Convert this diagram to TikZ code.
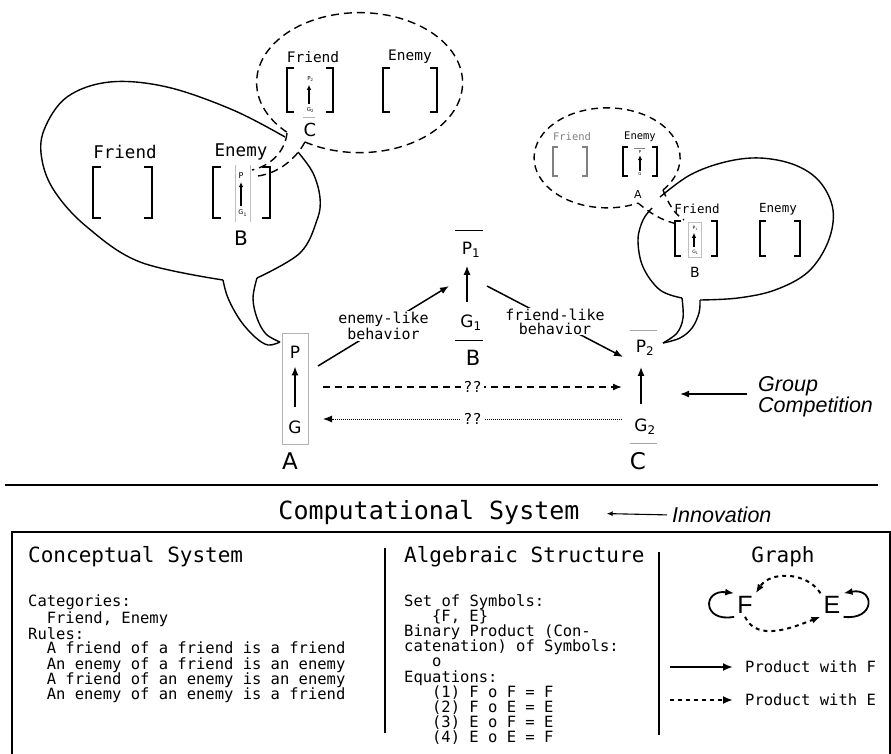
\documentclass[tikz,border=0pt]{standalone}
\usepackage{fontspec}
\setmainfont{DejaVu Sans}
\newfontfamily\mono{DejaVu Sans Mono}
\newfontfamily\arial{Liberation Sans}
\usetikzlibrary{arrows.meta}

% left bracket at #2, right bracket at #3, from #4 to #5, arms #6 long
\newcommand{\brk}[6]{%
  \draw[#1] (#2+#6,#4) -- (#2,#4) -- (#2,#5) -- (#2+#6,#5);
  \draw[#1] (#3-#6,#4) -- (#3,#4) -- (#3,#5) -- (#3-#6,#5);}

\begin{document}
\begin{tikzpicture}[x=1pt,y=-1pt,>={Latex[length=9pt,width=7pt]},
    mono/.style={inner sep=0pt,font=\mono\fontsize{15.5}{15.2}\selectfont},
    head/.style={inner sep=0pt,font=\mono\fontsize{21}{21}\selectfont},
    letter/.style={inner sep=1pt,font=\fontsize{17}{17}\selectfont},
    ital/.style={inner sep=0pt,font=\arial\itshape\fontsize{21.5}{21}\selectfont},
    bubble/.style={line width=1.4pt},
    thought/.style={line width=1.4pt,dash pattern=on 8pt off 5pt},
    pg/.style={->,line width=1.6pt,shorten <=12pt,shorten >=7pt},
    tiny/.style={->,line width=1.3pt,>={Latex[length=5pt,width=4.5pt]}}]
    \useasboundingbox (0,0) rectangle (891,753);

    % --- speech bubble of A: outline 42..320, tail to the box ---
    \draw[bubble] plot[smooth,tension=0.6] coordinates {(285,137) (233,110) (167,87) (110,82) (67,97) (44,130) (42,160) (55,192) (87,227) (140,262) (223,280)};
    \draw[bubble] plot[smooth,tension=0.6] coordinates {(223,280) (228,298) (240,320) (255,337) (268,345) (280,342)};
    \draw[bubble] plot[smooth,tension=0.6] coordinates {(280,342) (266,334) (257,318) (253,298) (257,278)};
    \draw[bubble] plot[smooth,tension=0.6] coordinates {(257,278) (300,253) (317,220) (320,198) (313,173) (298,152)};
    \node[font=\mono\fontsize{17.5}{17.5}\selectfont] (aFriend) at (125,152) {Friend};
    \node[font=\mono\fontsize{17.5}{17.5}\selectfont] (aEnemy) at (241,152) {Enemy};
    \brk{line width=2.8pt}{93}{152}{167}{218}{8}
    \brk{line width=2.8pt}{213}{270}{167}{218}{8}
    \draw[gray!50,line width=0.6pt] (235,165) -- (235,222)  (250,165) -- (250,222);
    \node[inner sep=1pt,font=\fontsize{8}{8}\selectfont] (aP) at (241,176) {P};
    \node[inner sep=1pt,font=\fontsize{6.5}{6.5}\selectfont] (aG) at (241,213) {G\rlap{\textsubscript{1}}};
    \draw[tiny,line width=1.6pt,shorten <=3pt,shorten >=2pt] (aG) -- (aP);
    \node[font=\fontsize{20}{20}\selectfont] (aB) at (241,238) {B};

    % --- thought of B: ellipse 257..463, tail down to B ---
    \draw[thought] (305,142) arc[start angle=122,end angle=-225,x radius=103,y radius=70];
    \draw[thought] (287,133) .. controls (285,152) and (270,166) .. (252,170);
    \draw[thought] (305,142) .. controls (295,160) and (278,173) .. (258,176);
    \node[font=\mono\fontsize{14.5}{14.5}\selectfont] (tFriend) at (313,57) {Friend};
    \node[font=\mono\fontsize{14.5}{14.5}\selectfont] (tEnemy) at (410,57) {Enemy};
    \brk{line width=2.8pt}{287}{333}{68}{112}{7}
    \brk{line width=2.8pt}{383}{437}{68}{112}{7}
    \node[inner sep=1pt,font=\fontsize{5.5}{5.5}\selectfont] (tP) at (309,79) {P\rlap{\textsubscript{2}}};
    \node[inner sep=1pt,font=\fontsize{5.5}{5.5}\selectfont] (tG) at (309,110) {G\rlap{\textsubscript{2}}};
    \draw[tiny,shorten <=2pt,shorten >=2pt] (tG) -- (tP);
    \draw[gray!60,line width=0.8pt] (303,117) -- (315,117);
    \node[font=\fontsize{18}{18}\selectfont] (tC) at (310,130) {C};

    % --- speech bubble of C: outline 638..833, tail to P2 ---
    \draw[bubble] plot[smooth,tension=0.6] coordinates {(660,197) (690,175) (725,162) (760,158) (795,165) (820,182) (833,210) (828,242) (808,272) (775,290) (738,298) (700,300)};
    \draw[bubble] plot[smooth,tension=0.6] coordinates {(700,300) (699,313) (692,328) (680,338) (663,343)};
    \draw[bubble] plot[smooth,tension=0.6] coordinates {(663,343) (677,333) (683,318) (682,298)};
    \draw[bubble] plot[smooth,tension=0.6] coordinates {(682,298) (660,290) (643,267) (638,240) (643,220) (652,208)};
    \node[font=\mono\fontsize{12.5}{12.5}\selectfont] (cFriend) at (697,209) {Friend};
    \node[font=\mono\fontsize{12.5}{12.5}\selectfont] (cEnemy) at (778,209) {Enemy};
    \brk{line width=2.2pt}{675}{717}{221}{256}{6}
    \brk{line width=2.2pt}{760}{800}{221}{256}{6}
    \draw[gray!50,line width=0.6pt] (688,222) rectangle (701,257);
    \node[inner sep=0.5pt,font=\fontsize{4.5}{4.5}\selectfont] (cP) at (694,228) {P\rlap{\textsubscript{1}}};
    \node[inner sep=0.5pt,font=\fontsize{4.5}{4.5}\selectfont] (cG) at (694,252) {G\rlap{\textsubscript{1}}};
    \draw[tiny,shorten <=2pt,shorten >=2pt] (cG) -- (cP);
    \node[font=\fontsize{14}{14}\selectfont] (cB) at (695,272) {B};

    % --- thought of B about A: ellipse 534..680 ---
    \draw[thought,dash pattern=on 7pt off 5pt] (663,190) arc[start angle=40,end angle=-295,x radius=73,y radius=50];
    \draw[thought,dash pattern=on 7pt off 5pt] (663,190) .. controls (668,202) and (673,213) .. (684,220);
    \draw[thought,dash pattern=on 7pt off 5pt] (638,203) .. controls (650,213) and (662,221) .. (678,224);
    \node[gray,font=\mono\fontsize{10.5}{10.5}\selectfont] (rFriend) at (572,137) {Friend};
    \node[font=\mono\fontsize{10.5}{10.5}\selectfont] (rEnemy) at (640,137) {Enemy};
    \brk{gray,line width=1.6pt}{553}{587}{147}{176}{5}
    \brk{line width=2pt}{623}{657}{147}{176}{5}
    \draw[gray,line width=0.8pt] (634,148) -- (645,148);
    \node[inner sep=0.5pt,font=\fontsize{4}{4}\selectfont] (rP) at (640,152) {P};
    \node[inner sep=0.5pt,font=\fontsize{4}{4}\selectfont] (rG) at (640,174) {G};
    \draw[tiny,shorten <=1pt,shorten >=1pt] (rG) -- (rP);
    \node[font=\fontsize{11}{11}\selectfont] (rA) at (638,194) {A};

    % --- groups A, B, C ---
    \node[draw=gray!60,line width=1pt,minimum width=26pt,minimum height=111pt,inner sep=0pt] (boxA) at (295,388.5) {};
    \node[letter] (PA) at (295,352) {P};
    \node[letter] (GA) at (295,427) {G};
    \draw[pg] (GA) -- (PA);
    \node[font=\fontsize{23}{23}\selectfont] (labA) at (290,461) {A};

    \draw[line width=0.8pt] (455,230) -- (483,230);
    \node[letter] (PB) at (467,250) {P\rlap{\textsubscript{1}}};
    \node[letter] (GB) at (467,323) {G\rlap{\textsubscript{1}}};
    \draw[pg] (GB) -- (PB);
    \draw[line width=0.8pt] (455,340) -- (483,340);
    \node[font=\fontsize{21}{21}\selectfont] (labB) at (473,358) {B};

    \draw[gray!70,line width=0.8pt] (630,330) -- (657,330);
    \node[letter] (PC) at (641,348) {P\rlap{\textsubscript{2}}};
    \node[letter] (GC) at (641,427) {G\rlap{\textsubscript{2}}};
    \draw[pg,shorten <=14pt,shorten >=10pt] (GC) -- (PC);
    \draw[gray!70,line width=0.8pt] (630,443) -- (657,443);
    \node[font=\fontsize{23}{23}\selectfont] (labC) at (638,461) {C};

    % --- behaviours between the groups ---
    \coordinate (ab1) at (318,366);
    \coordinate (ab2) at (449,286);
    \coordinate (bc1) at (487,286);
    \coordinate (bc2) at (623,357);
    \draw[->,line width=1.5pt] (ab1) -- node[mono,fill=white,align=center,inner sep=1pt,font=\mono\fontsize{15}{14}\selectfont] (enemyLbl) {enemy-like\\behavior} (ab2);
    \draw[->,line width=1.5pt] (bc1) -- node[mono,fill=white,align=center,inner sep=1pt,font=\mono\fontsize{15}{14}\selectfont] (friendLbl) {friend-like\\behavior} (bc2);
    \coordinate (ac1) at (323,387);
    \coordinate (ac2) at (622,387);
    \coordinate (ca1) at (622,419);
    \coordinate (ca2) at (323,419);
    \draw[->,line width=1.5pt,dash pattern=on 7pt off 5pt] (ac1) -- node[fill=white,inner sep=2pt,font=\mono\fontsize{15}{15}\selectfont] (qq1) {??} (ac2);
    \draw[->,line width=1pt,densely dotted] (ca1) -- node[fill=white,inner sep=2pt,font=\mono\fontsize{15}{15}\selectfont] (qq2) {??} (ca2);

    % --- group competition ---
    \node[ital,align=left,anchor=west] (compet) at (758,397) {Group\\Competition};
    \coordinate (gcEnd) at (680,394);
    \draw[->,line width=1.6pt,shorten <=11pt] (compet.west |- gcEnd) -- (gcEnd);

    % --- computational system ---
    \draw[line width=1.5pt] (5,485) -- (878,485);
    \node[inner sep=0pt,font=\mono\fontsize{25}{25}\selectfont] (compSys) at (429,513) {Computational System};
    \node[ital,anchor=west] (innov) at (672,515) {Innovation};
    \draw[->,line width=1.1pt,>={Latex[length=6pt,width=5pt]},shorten <=5pt,shorten >=27pt] (innov.west) -- (compSys.east);
    \draw[line width=1.5pt] (12,760) -- (12,532) -- (890,532) -- (890,760);
    \draw[line width=1.8pt] (385,548) -- (385,733);
    \draw[line width=1.8pt] (659,552) -- (659,735);

    % --- conceptual system ---
    \node[head,anchor=west] (concT) at (28,557) {Conceptual System};
    \node[mono,anchor=north west,align=left,font=\mono\fontsize{15.5}{13}\selectfont] (concA) at (28,595) {Categories:\\\hspace*{1.2em}Friend, Enemy\\Rules:};
    \node[mono,anchor=north west,align=left] (concB) at (28,642) {\hspace*{1.2em}A friend of a friend is a friend\\\hspace*{1.2em}An enemy of a friend is an enemy\\\hspace*{1.2em}A friend of an enemy is an enemy\\\hspace*{1.2em}An enemy of an enemy is a friend};

    % --- algebraic structure ---
    \node[head,anchor=west] (algT) at (404,557) {Algebraic Structure};
    \node[mono,anchor=north west,align=left] (algB) at (404,594) {Set of Symbols:\\\hspace*{1.8em}\{F, E\}\\Binary Product (Con-\\catenation) of Symbols:\\\hspace*{1.8em}o\\Equations:\\\hspace*{1.8em}(1) F o F = F\\\hspace*{1.8em}(2) F o E = E\\\hspace*{1.8em}(3) E o F = E\\\hspace*{1.8em}(4) E o E = F};

    % --- graph ---
    \node[head] (graphT) at (783,557) {Graph};
    \node[inner sep=3pt,font=\arial\fontsize{25}{25}\selectfont] (F) at (745,605) {F};
    \node[inner sep=3pt,font=\arial\fontsize{25}{25}\selectfont] (E) at (832,605) {E};
    \draw[->,line width=1.8pt] (F.south west) .. controls +(-32,6) and +(-32,-4) .. (F.north west);
    \draw[->,line width=1.8pt] (E.south east) .. controls +(32,4) and +(32,-6) .. (E.north east);
    \draw[->,line width=2pt,dash pattern=on 4pt off 4pt] (E.north west) .. controls +(-14,-22) and +(14,-22) .. (F.north east);
    \draw[->,line width=2pt,dash pattern=on 4pt off 4pt] (F.south) .. controls +(12,26) and +(-26,10) .. (E.south west);
    \node[mono,anchor=west] (prodF) at (745,667) {Product with F};
    \node[mono,anchor=west] (prodE) at (745,700) {Product with E};
    \coordinate (solidStart) at (670,667);
    \coordinate (dashStart) at (670,700);
    \draw[->,line width=2pt,>={Latex[length=10pt,width=8pt]},shorten >=12pt] (solidStart) -- (prodF.west);
    \draw[->,line width=2pt,>={Latex[length=10pt,width=8pt]},dash pattern=on 4pt off 4pt,shorten >=12pt] (dashStart) -- (prodE.west);
\end{tikzpicture}
\end{document}
